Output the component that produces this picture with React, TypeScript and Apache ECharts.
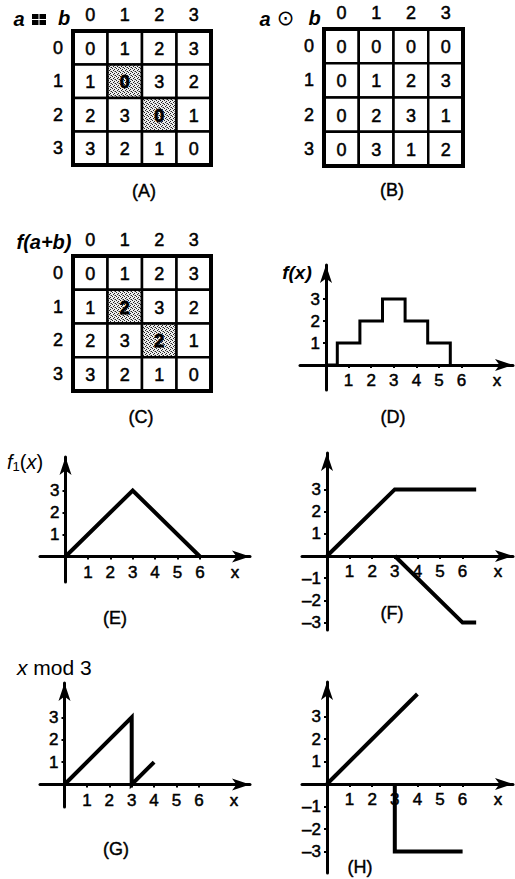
import React, { useEffect, useRef } from "react";
import * as echarts from "echarts";

// ---- data ----
const digits = ["0", "1", "2", "3"];
const addTable = [
  [0, 1, 2, 3],
  [1, 0, 3, 2],
  [2, 3, 0, 1],
  [3, 2, 1, 0],
];
const mulTable = [
  [0, 0, 0, 0],
  [0, 1, 2, 3],
  [0, 2, 3, 1],
  [0, 3, 1, 2],
];
const fSumTable = [
  [0, 1, 2, 3],
  [1, 2, 3, 2],
  [2, 3, 2, 1],
  [3, 2, 1, 0],
];
const shadedCells = [
  [1, 1],
  [2, 2],
]; // [row, col]

const stepF = [
  [0, 0], [0.5, 0], [0.5, 1], [1.5, 1], [1.5, 2], [2.5, 2], [2.5, 3],
  [3.5, 3], [3.5, 2], [4.5, 2], [4.5, 1], [5.5, 1], [5.5, 0],
];
const triangleF1 = [[0, 0], [3, 3], [6, 0]];
const rampUp = [[0, 0], [3, 3], [6.6, 3]];
const rampDown = [[3, 0], [6, -3], [6.6, -3]];
const modThree = [[0, 0], [3, 3], [3, 0], [4, 1]];
const lineUp = [[0, 0], [4, 4]];
const stepDown = [[3, 0], [3, -3], [6, -3]];

const xTickValues = [1, 2, 3, 4, 5, 6];
const xNamePos = 7.57;
const yTicksUpper = [1, 2, 3];
const yTicksBoth = [-3, -2, -1, 1, 2, 3];

// ---- styling ----
const FONT = "'Liberation Sans', Arial, Helvetica, sans-serif";
const BLACK = "#000";
const NUM_SIZE = 18;
const TICK_SIZE = 17;
const INK = { textBorderColor: BLACK, textBorderWidth: 0.5 };

type TableBox = { left: number; top: number; width: number; height: number };
type PlotBox = {
  left: number; tipX: number; tipY: number; bottom: number;
  x0: number; y0: number; xu: number; yu: number;
};

const tableBoxes: TableBox[] = [
  { left: 73, top: 31, width: 138, height: 134 },
  { left: 324, top: 29, width: 139, height: 137 },
  { left: 73, top: 256, width: 138, height: 135 },
];

// tipX / tipY: where the axis arrows end; x0 / y0: pixel of the origin
const plotBoxes: PlotBox[] = [
  { left: 300, tipX: 513, tipY: 265, bottom: 390, x0: 326, y0: 365, xu: 22.6, yu: 22 },
  { left: 40, tipX: 250, tipY: 457, bottom: 582, x0: 65.5, y0: 556.5, xu: 22.4, yu: 22 },
  { left: 302, tipX: 513, tipY: 453, bottom: 630, x0: 327, y0: 556, xu: 22.6, yu: 22.2 },
  { left: 40, tipX: 250, tipY: 683, bottom: 807, x0: 64.5, y0: 784.5, xu: 22.4, yu: 22.4 },
  { left: 302, tipX: 513, tipY: 682, bottom: 873, x0: 327, y0: 784, xu: 22.6, yu: 22.5 },
];

// stippled fill for the highlighted cells
function makeStipple(): any {
  const c = document.createElement("canvas");
  c.width = 4;
  c.height = 4;
  const ctx = c.getContext("2d");
  if (!ctx) return "#c0c0c0";
  ctx.fillStyle = "#ececec";
  ctx.fillRect(0, 0, 4, 4);
  ctx.fillStyle = "#222";
  [[0, 0], [2, 1], [1, 2], [3, 3]].forEach(([x, y]) => ctx.fillRect(x, y, 1, 1));
  ctx.fillStyle = "#999";
  [[2, 3]].forEach(([x, y]) => ctx.fillRect(x, y, 1, 1));
  return { image: c, repeat: "repeat" };
}

function isShaded(r: number, c: number) {
  return shadedCells.some(([sr, sc]) => sr === r && sc === c);
}

// [col, row, value, shaded]
function tableData(table: number[][], shade: boolean) {
  const out: number[][] = [];
  table.forEach((row, r) =>
    row.forEach((v, c) => out.push([c, r, v, shade && isShaded(r, c) ? 1 : 0]))
  );
  return out;
}

function buildOption() {
  const stipple = makeStipple();

  const renderCell = (_params: any, api: any) => {
    const c = api.value(0);
    const r = api.value(1);
    const v = api.value(2);
    const s = api.value(3) === 1;
    const center = api.coord([c, r]);
    const size = api.size([1, 1]);
    return {
      type: "group",
      children: [
        {
          type: "rect",
          shape: { x: center[0] - size[0] / 2, y: center[1] - size[1] / 2, width: size[0], height: size[1] },
          style: { fill: s ? stipple : "#fff", stroke: BLACK, lineWidth: 2.5 },
        },
        {
          type: "text",
          x: center[0],
          y: center[1] + 1,
          style: {
            text: String(v),
            fontFamily: FONT, fontSize: NUM_SIZE, fontWeight: s ? "bold" : "normal",
            fill: BLACK, align: "center", verticalAlign: "middle",
            stroke: BLACK, lineWidth: s ? 0.8 : 0.5,
          },
        },
      ],
    };
  };

  const grid: any[] = [];
  const xAxis: any[] = [];
  const yAxis: any[] = [];
  const series: any[] = [];

  const tables = [
    { data: addTable, shade: true },
    { data: mulTable, shade: false },
    { data: fSumTable, shade: true },
  ];

  tables.forEach((t, i) => {
    const b = tableBoxes[i];
    grid.push({
      left: b.left, top: b.top, width: b.width, height: b.height,
      show: true, borderColor: BLACK, borderWidth: 4, backgroundColor: "transparent", z: 5,
    });
    xAxis.push({
      type: "category", gridIndex: i, position: "top", data: digits,
      axisLine: { show: false }, axisTick: { show: false }, splitLine: { show: false },
      axisLabel: { color: BLACK, fontSize: NUM_SIZE, fontFamily: FONT, margin: 7, ...INK },
    });
    yAxis.push({
      type: "category", gridIndex: i, inverse: true, data: digits,
      axisLine: { show: false }, axisTick: { show: false }, splitLine: { show: false },
      axisLabel: { color: BLACK, fontSize: NUM_SIZE, fontFamily: FONT, margin: 10, ...INK },
    });
    series.push({
      type: "custom", xAxisIndex: i, yAxisIndex: i,
      data: tableData(t.data, t.shade),
      renderItem: renderCell,
      silent: true,
    });
  });

  const plots = [
    { yTicks: yTicksUpper, lines: [stepF], width: 3 },
    { yTicks: yTicksUpper, lines: [triangleF1], width: 4 },
    { yTicks: yTicksBoth, lines: [rampUp, rampDown], width: 4 },
    { yTicks: yTicksUpper, lines: [modThree], width: 4 },
    { yTicks: yTicksBoth, lines: [lineUp, stepDown], width: 4 },
  ];

  plots.forEach((p, k) => {
    const idx = k + 3;
    const b = plotBoxes[k];
    const right = b.tipX;
    const top = b.tipY;
    grid.push({ left: b.left, top, width: right - b.left, height: b.bottom - top });
    const axisLine = {
      onZero: false,
      symbol: ["none", "arrow"],
      symbolSize: [9, 18],
      lineStyle: { color: BLACK, width: 3 },
    };
    // axes are shifted from the grid edge onto the origin with a negative offset
    xAxis.push({
      type: "value", gridIndex: idx, position: "bottom",
      offset: -(b.bottom - b.y0),
      min: (b.left - b.x0) / b.xu, max: (right - b.x0) / b.xu,
      axisLine,
      axisTick: { show: true, customValues: xTickValues, length: 3, lineStyle: { color: BLACK, width: 2 } },
      axisLabel: {
        customValues: [...xTickValues, xNamePos],
        formatter: (v: number) => (v > 6.5 ? "x" : String(v)),
        color: BLACK, fontSize: TICK_SIZE, fontFamily: FONT, margin: 7, ...INK,
      },
      splitLine: { show: false },
    });
    yAxis.push({
      type: "value", gridIndex: idx, position: "left",
      offset: -(b.x0 - b.left),
      min: (b.y0 - b.bottom) / b.yu, max: (b.y0 - top) / b.yu,
      axisLine,
      axisTick: { show: true, customValues: p.yTicks, length: 3, lineStyle: { color: BLACK, width: 2 } },
      axisLabel: {
        customValues: p.yTicks,
        formatter: (v: number) => (v < 0 ? "\u2013" + -v : String(v)),
        color: BLACK, fontSize: TICK_SIZE, fontFamily: FONT, margin: 6, ...INK,
      },
      splitLine: { show: false },
    });
    p.lines.forEach((d) =>
      series.push({
        type: "line", xAxisIndex: idx, yAxisIndex: idx, data: d,
        symbol: "none", showSymbol: false, silent: true, clip: false,
        lineStyle: { color: BLACK, width: p.width, cap: "butt", join: "miter" },
      })
    );
  });

  const cap = (text: string, x: number, y: number) => ({
    type: "text", x, y,
    style: {
      text, fontFamily: FONT, fontSize: 18, fill: BLACK, align: "center", verticalAlign: "middle",
      stroke: BLACK, lineWidth: 0.4,
    },
  });
  const italic = (text: string, x: number, y: number, size = 20, weight = "bold", align = "center") => ({
    type: "text", x, y,
    style: {
      text, fontFamily: FONT, fontSize: size, fontStyle: "italic", fontWeight: weight,
      fill: BLACK, align, verticalAlign: "middle",
    },
  });

  const graphic: any[] = [
    cap("(A)", 144, 191),
    cap("(B)", 392, 190),
    cap("(C)", 141, 417),
    cap("(D)", 393, 417),
    cap("(E)", 115, 618),
    cap("(F)", 392, 613),
    cap("(G)", 116, 849),
    cap("(H)", 360, 867),
    // a ⊞ b
    italic("a", 19, 19),
    {
      type: "group", x: 32, y: 14,
      children: [
        { type: "rect", shape: { x: 0, y: 0, width: 6.5, height: 5 }, style: { fill: BLACK } },
        { type: "rect", shape: { x: 7.5, y: 0, width: 6.5, height: 5 }, style: { fill: BLACK } },
        { type: "rect", shape: { x: 0, y: 6, width: 6.5, height: 5 }, style: { fill: BLACK } },
        { type: "rect", shape: { x: 7.5, y: 6, width: 6.5, height: 5 }, style: { fill: BLACK } },
      ],
    },
    italic("b", 64, 18),
    // a ⊙ b
    italic("a", 265, 19),
    {
      type: "text", x: 285.5, y: 18,
      style: { text: "\u2299", fontFamily: "'DejaVu Sans'", fontSize: 21, fill: BLACK, align: "center", verticalAlign: "middle" },
    },
    italic("b", 314.5, 18),
    // f(a+b)
    italic("f(a+b)", 44, 242, 20),
    // f(x)
    italic("f(x)", 297, 272, 19, "bold"),
    // f1(x)
    {
      type: "text", x: 7, y: 462,
      style: {
        text: "{i|f}{s|1}{n|(}{i|x}{n|)}",
        fill: BLACK, align: "left", verticalAlign: "middle",
        rich: {
          i: { fontFamily: FONT, fontSize: 20, fontStyle: "italic", fill: BLACK, lineHeight: 22 },
          n: { fontFamily: FONT, fontSize: 20, fill: BLACK, lineHeight: 22 },
          s: { fontFamily: FONT, fontSize: 13, fill: BLACK, lineHeight: 13, verticalAlign: "bottom" },
        },
      },
    },
    // x mod 3
    {
      type: "text", x: 17, y: 667,
      style: {
        text: "{i|x}{n| mod 3}",
        fill: BLACK, align: "left", verticalAlign: "middle",
        rich: {
          i: { fontFamily: FONT, fontSize: 21, fontStyle: "italic", fill: BLACK },
          n: { fontFamily: FONT, fontSize: 21, fill: BLACK },
        },
      },
    },
  ];

  return {
    animation: false,
    backgroundColor: "#fff",
    grid, xAxis, yAxis, series, graphic,
  };
}

export default function App() {
  const ref = useRef<HTMLDivElement>(null);
  useEffect(() => {
    document.body.style.margin = "0";
    if (!ref.current) return;
    const chart = echarts.init(ref.current, undefined, { renderer: "svg" });
    chart.setOption(buildOption() as any);
    return () => chart.dispose();
  }, []);
  return <div ref={ref} style={{ width: 515, height: 879 }} />;
}
